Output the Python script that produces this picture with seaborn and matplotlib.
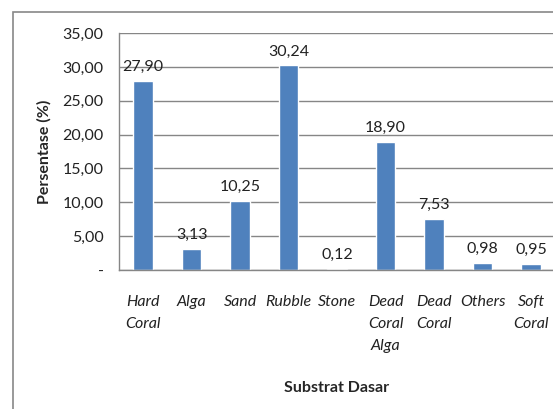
import matplotlib
matplotlib.use("Agg")
import matplotlib.pyplot as plt
import seaborn as sns
from matplotlib.patches import Rectangle

# data
categories = ["Hard\nCoral", "Alga", "Sand", "Rubble", "Stone",
              "Dead\nCoral\nAlga", "Dead\nCoral", "Others", "Soft\nCoral"]
values = [27.90, 3.13, 10.25, 30.24, 0.12, 18.90, 7.53, 0.98, 0.95]
y_ticks = [0, 5, 10, 15, 20, 25, 30, 35]

sns.set_style("white")
plt.rcParams['font.family'] = ['Lato', 'DejaVu Sans']

fig = plt.figure(figsize=(5.53, 4.09), dpi=100)
ax = fig.add_axes([0.215, 0.340, 0.789, 0.579])

sns.barplot(x=list(range(len(categories))), y=values, color="#4F81BD",
            width=0.4, saturation=1, ax=ax)

# data labels above the bars
for i, v in enumerate(values):
    ax.annotate("{:.2f}".format(v).replace(".", ","), (i, v),
                xytext=(0, 5), textcoords="offset points",
                ha="center", va="bottom", fontsize=11.5, color="#222222")

ax.set_ylim(0, 35)
ax.set_xlim(-0.5, len(categories) - 0.5)
ax.set_yticks(y_ticks)
ax.set_yticklabels(["-" if t == 0 else "{:.2f}".format(t).replace(".", ",")
                    for t in y_ticks], fontsize=11.5, color="#222222")
ax.set_xticks(range(len(categories)))
ax.set_xticklabels(categories, fontsize=11.5, style="italic", color="#222222",
                   linespacing=1.75, va="top")
ax.tick_params(axis="x", length=0, pad=18)
ax.tick_params(axis="y", length=5, width=1, color="#868686", direction="out", pad=6)

ax.yaxis.grid(True, color="#868686", linewidth=1)
ax.set_axisbelow(True)
for side in ["top", "right"]:
    ax.spines[side].set_visible(False)
for side in ["left", "bottom"]:
    ax.spines[side].set_color("#868686")
    ax.spines[side].set_linewidth(1)

ax.set_xlabel("Substrat Dasar", fontsize=11.5, fontweight="bold", labelpad=20)
ax.set_ylabel("Persentase (%)", fontsize=11.5, fontweight="bold", labelpad=8)

# outer chart border
fig.patches.append(Rectangle((13 / 553, -0.1), 1.2, 1 - 12 / 409 + 0.1,
                             transform=fig.transFigure, fill=False,
                             edgecolor="#888888", linewidth=1.2))

fig.savefig("out.png", dpi=100)
